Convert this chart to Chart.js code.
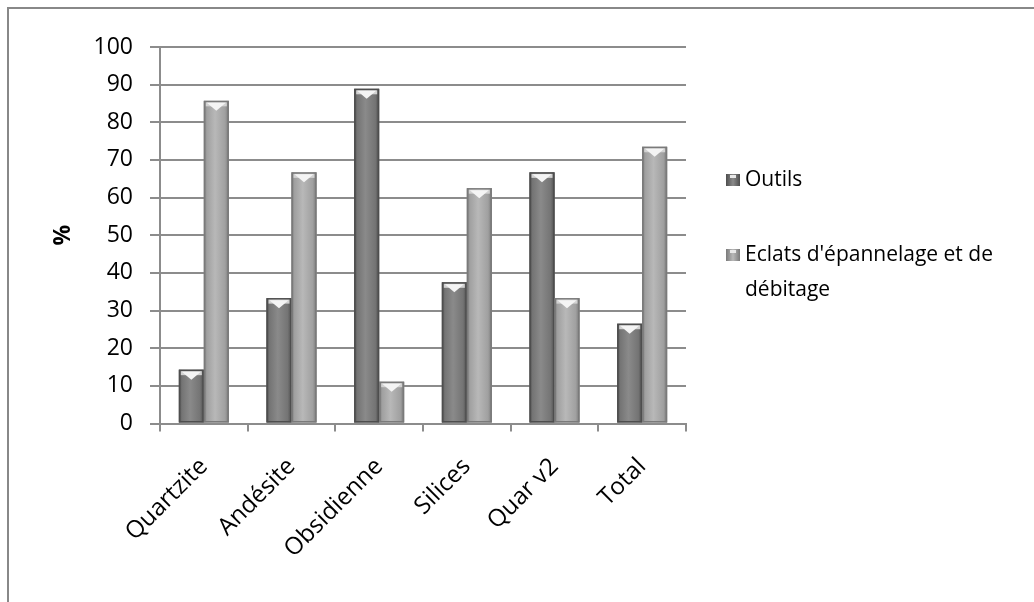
<!DOCTYPE html>
<html>
<head>
<meta charset="utf-8">
<script src="https://cdn.jsdelivr.net/npm/chart.js@4/dist/chart.umd.min.js"></script>
<style>
  html, body { margin: 0; padding: 0; background: #fff; }
  #wrap { width: 1034px; height: 602px; }
</style>
</head>
<body>
<div id="wrap"><canvas id="rawChart" width="1034" height="602"></canvas></div>
<script>
// DATA
const categories = ["Quartzite", "Andésite", "Obsidienne", "Silices", "Quar v2", "Total"];
const outils = [14.3, 33.3, 88.9, 37.5, 66.7, 26.5];
const eclats = [85.7, 66.7, 11.1, 62.5, 33.3, 73.5];
const seriesNames = ["Outils", "Eclats d'épannelage et de débitage"];
const yTicks = [0, 10, 20, 30, 40, 50, 60, 70, 80, 90, 100];

const GRID = "#8c8c8c";
const FONT = "Open Sans";

// bar looks: [edge, body, centre]
const shades = [
  ["#4e4e4e", "#747474", "#8a8a8a"],
  ["#7a7a7a", "#a0a0a0", "#b8b8b8"]
];

// shaded bars with a light notch on top
const bevelBars = {
  id: "bevelBars",
  afterDatasetsDraw(chart) {
    const ctx = chart.ctx;
    chart.data.datasets.forEach((ds, i) => {
      const c = shades[i];
      chart.getDatasetMeta(i).data.forEach(bar => {
        const l = bar.x - bar.width / 2, r = bar.x + bar.width / 2;
        const t = bar.y, b = bar.base, w = r - l;
        const g = ctx.createLinearGradient(l, 0, r, 0);
        g.addColorStop(0, c[0]);
        g.addColorStop(0.12, c[1]);
        g.addColorStop(0.45, c[2]);
        g.addColorStop(0.85, c[1]);
        g.addColorStop(1, c[0]);
        ctx.save();
        ctx.fillStyle = g;
        ctx.fillRect(l, t, w, b - t);
        ctx.strokeStyle = c[0];
        ctx.lineWidth = 1.5;
        ctx.strokeRect(l + 0.75, t + 0.75, w - 1.5, b - t - 1.5);
        // top notch
        ctx.fillStyle = "#d2d2d2";
        ctx.fillRect(l + 2, t + 1.5, w - 4, 4);
        ctx.beginPath();
        ctx.moveTo(l + 3, t + 2);
        ctx.lineTo(r - 3, t + 2);
        ctx.lineTo(bar.x, t + 10);
        ctx.closePath();
        ctx.fillStyle = "#f4f4f4";
        ctx.fill();
        ctx.restore();
      });
    });
  }
};

// outer frame + legend on the right
const frameLegend = {
  id: "frameLegend",
  beforeDraw(chart) {
    const ctx = chart.ctx;
    ctx.save();
    ctx.fillStyle = "#fff";
    ctx.fillRect(0, 0, chart.width, chart.height);
    ctx.strokeStyle = "#888";
    ctx.lineWidth = 2;
    ctx.strokeRect(8, 8, 1100, 700);
    ctx.restore();
  },
  afterDraw(chart) {
    const ctx = chart.ctx;
    const rows = [180, 255];
    ctx.save();
    ctx.font = "21px " + FONT;
    ctx.textBaseline = "middle";
    chart.data.datasets.forEach((ds, i) => {
      const y = rows[i];
      const c = shades[i];
      const g = ctx.createLinearGradient(726, 0, 740, 0);
      g.addColorStop(0, c[0]);
      g.addColorStop(0.5, c[2]);
      g.addColorStop(1, c[0]);
      ctx.fillStyle = g;
      ctx.fillRect(726, y - 6, 14, 12);
      ctx.fillStyle = "#e8e8e8";
      ctx.fillRect(730, y - 5, 6, 3);
      ctx.fillStyle = "#000";
      // wrap long names
      const words = ds.label.split(" ");
      let line = "", lines = [];
      words.forEach(wd => {
        const test = line ? line + " " + wd : wd;
        if (ctx.measureText(test).width > 285 && line) { lines.push(line); line = wd; }
        else line = test;
      });
      lines.push(line);
      lines.forEach((ln, k) => ctx.fillText(ln, 745, y + k * 35));
    });
    ctx.restore();
  }
};

new Chart(document.getElementById("rawChart"), {
  type: "bar",
  data: {
    labels: categories,
    datasets: [
      { label: seriesNames[0], data: outils, backgroundColor: shades[0][1] },
      { label: seriesNames[1], data: eclats, backgroundColor: shades[1][1] }
    ]
  },
  options: {
    responsive: false,
    animation: false,
    devicePixelRatio: 1,
    categoryPercentage: 0.57,
    barPercentage: 1.0,
    layout: { padding: { left: 40, top: 47, right: 348, bottom: 0 } },
    plugins: { legend: { display: false }, tooltip: { enabled: false } },
    scales: {
      x: {
        afterFit(s) { s.height = 178.5; },
        grid: { drawOnChartArea: false, offset: true, color: GRID, lineWidth: 2, tickLength: 8 },
        border: { color: GRID, width: 2 },
        ticks: {
          color: "#000", font: { family: FONT, size: 24 },
          minRotation: 45, maxRotation: 45, autoSkip: false, padding: 21
        }
      },
      y: {
        min: 0, max: 100,
        afterFit(s) { s.width = 120; },
        afterBuildTicks(s) { s.ticks = yTicks.map(v => ({ value: v })); },
        grid: { color: GRID, lineWidth: 2, tickLength: 10 },
        border: { color: GRID, width: 2 },
        ticks: { color: "#000", font: { family: FONT, size: 23 }, padding: 17 },
        title: {
          display: true, text: "%", color: "#000",
          font: { family: FONT, size: 23, weight: "bold" },
          padding: { top: 10, bottom: 0 }
        }
      }
    }
  },
  plugins: [frameLegend, bevelBars]
});
</script>
</body>
</html>
